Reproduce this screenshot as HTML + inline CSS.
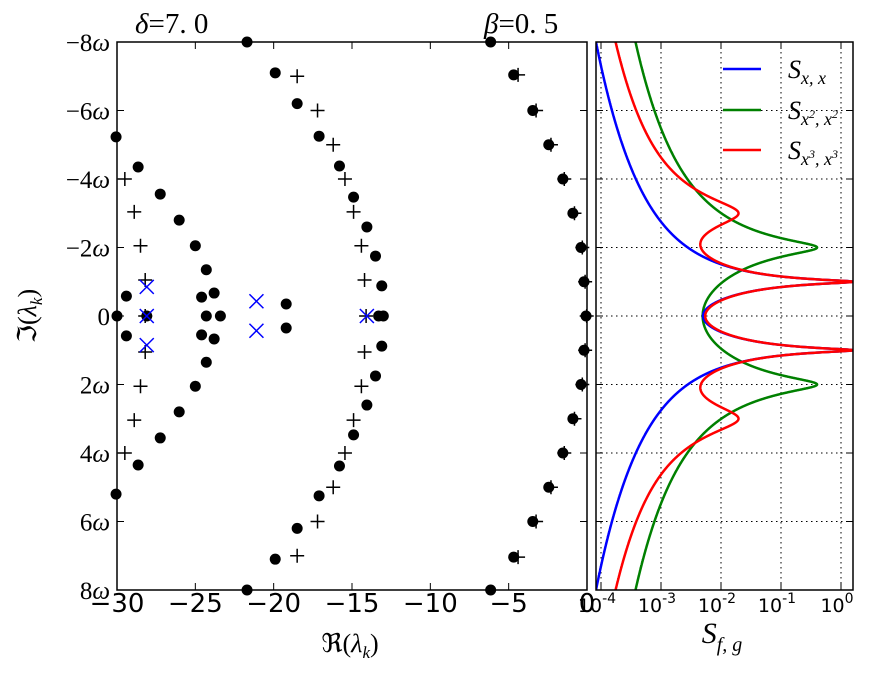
<!DOCTYPE html>
<html><head><meta charset="utf-8"><style>
html,body{margin:0;padding:0;background:#fff;}
svg{display:block;font-family:"Liberation Serif","DejaVu Serif",serif;}
</style></head><body>
<svg id="fig" width="872" height="676" viewBox="0 0 872 676" xmlns="http://www.w3.org/2000/svg">
<g id="left"></g>
<g id="right"></g>
</svg>
<script>
// ---- Left panel data (Re, Im in units of ω) ----
const dotRe = [-30.0,-29.4,-29.4,-28.1,-28.65,-28.65,-27.24,-27.24,-26.03,-26.03,-25.0,-25.0,-24.3,-24.3,-23.8,-23.8,-24.6,-24.6,-24.3,-23.4,-30.06,-30.06,-21.7,-21.7,
 -19.2,-19.2,-19.9,-19.9,-18.5,-18.5,-17.1,-17.1,-15.8,-15.8,-14.9,-14.9,-14.05,-14.05,-13.5,-13.5,-13.1,-13.1,-13.3,-13.0,
 -6.15,-6.15,-4.68,-4.68,-3.46,-3.46,-2.44,-2.44,-1.54,-1.54,-0.9,-0.9,-0.38,-0.38,-0.19,-0.19,-0.06];
const dotIm = [0,-0.58,0.58,0,-4.35,4.35,-3.56,3.56,-2.8,2.8,-2.05,2.05,-1.35,1.35,-0.67,0.67,-0.55,0.55,0,0,-5.23,5.2,-8,8,
 -0.35,0.35,-7.1,7.1,-6.2,6.2,-5.25,5.25,-4.38,4.38,-3.47,3.47,-2.6,2.6,-1.75,1.75,-0.88,0.88,0,0,
 -8,8,-7.04,7.04,-6,6,-5,5,-4,4,-3,3,-2,2,-1,1,0];
const plusRe = [-29.5,-29.5,-28.9,-28.9,-28.5,-28.5,-28.2,-28.2,-28.2,-18.5,-18.5,-17.2,-17.2,-16.2,-16.2,-15.45,-15.45,-14.9,-14.9,-14.4,-14.4,-14.2,-14.2,-14.1,
 -4.4,-4.4,-3.25,-3.25,-2.3,-2.3,-1.45,-1.45,-0.8,-0.8,-0.3,-0.3,-0.12,-0.12,-0.02];
const plusIm = [-4,4,-3.04,3.04,-2.05,2.05,-1.05,1.05,0,-7,7,-6,6,-5,5,-4,4,-3.04,3.04,-2.05,2.05,-1.05,1.05,0,
 -7.04,7.04,-6,6,-5,5,-4,4,-3,3,-2,2,-1,1,0];
const crossRe = [-28.1,-28.1,-28.1,-21.1,-21.1,-14.05];
const crossIm = [-0.85,0,0.85,-0.43,0.43,0];
const xTicks = [-30,-25,-20,-15,-10,-5,0];
const xTickLabels = ["\u221230","\u221225","\u221220","\u221215","\u221210","\u22125","0"];
const yTicks = [-8,-6,-4,-2,0,2,4,6,8];
const yTickNums = ["\u22128","\u22126","\u22124","\u22122","0","2","4","6","8"];
// ---- Right panel data: spectral peaks (center ω, amplitude, width) ----
const sxxCenters = [-1,1];   const sxxAmps = [0.063,0.063];   const sxxWidths = [0.04,0.04];
const sx2Centers = [-2,2];   const sx2Amps = [0.063,0.063];   const sx2Widths = [0.158,0.158];
const sx3Centers = [-1,1,-3,3]; const sx3Amps = [0.063,0.063,0.006,0.006]; const sx3Widths = [0.04,0.04,0.32,0.32];
const logTicks = [-4,-3,-2,-1,0];
const logTickLabels = ["-4","-3","-2","-1","0"];

const NS="http://www.w3.org/2000/svg";
function mk(tag,attrs,parent){const e=document.createElementNS(NS,tag);for(const k in attrs)e.setAttribute(k,attrs[k]);parent.appendChild(e);return e;}
const L={x0:117,x1:587,y0:42,y1:590};
const R={x0:596,x1:853};
const sx=v=>L.x0+(v+30)/30*(L.x1-L.x0);
const sy=w=>L.y0+(w+8)/16*(L.y1-L.y0);
const lx=lg=>601+(lg+4)*60;
const left=document.getElementById('left'), right=document.getElementById('right');

for(let i=0;i<dotRe.length;i++){
  const c=mk('circle',{cx:sx(dotRe[i]),cy:sy(dotIm[i]),r:5.5,fill:'#000'},left);
  
  
}
for(let i=0;i<plusRe.length;i++){
  const x=sx(plusRe[i]),y=sy(plusIm[i]);
  const p=mk('path',{d:`M${x-7},${y}H${x+7}M${x},${y-7}V${y+7}`,stroke:'#000','stroke-width':1.5},left);
  
  
}
for(let i=0;i<crossRe.length;i++){
  const x=sx(crossRe[i]),y=sy(crossIm[i]);
  const p=mk('path',{d:`M${x-7},${y-7}L${x+7},${y+7}M${x-7},${y+7}L${x+7},${y-7}`,stroke:'#0000ff','stroke-width':1.5},left);
  
  
}
const lf=mk('rect',{x:L.x0,y:L.y0,width:L.x1-L.x0,height:L.y1-L.y0,fill:'none',stroke:'#000','stroke-width':1.5},left);


xTicks.forEach((v,i)=>{
  const x=sx(v);
  mk('path',{d:`M${x},${L.y1}v-7M${x},${L.y0}v7`,stroke:'#000','stroke-width':1},left);
  const t=mk('text',{x:x,y:612,'text-anchor':'middle','font-size':26,'font-family':'"DejaVu Sans","Liberation Sans",sans-serif'},left);
  t.textContent=xTickLabels[i];
  
  
});
yTicks.forEach((w,i)=>{
  const y=sy(w);
  mk('path',{d:`M${L.x0},${y}h7M${L.x1},${y}h-7`,stroke:'#000','stroke-width':1},left);
  const t=mk('text',{x:110,y:y+9,'text-anchor':'end','font-size':25},left);
  t.textContent=yTickNums[i];
  if(w!==0){const s=mk('tspan',{'font-style':'italic'},t);s.textContent='\u03c9';}
  
  
});

const rg=mk('g',{},right);
logTicks.forEach(lg=>{const x=lx(lg);mk('line',{x1:x,y1:L.y0,x2:x,y2:L.y1,stroke:'#000','stroke-width':1,'stroke-dasharray':'1.5,3.5'},rg);});
[-6,-4,-2,0,2,4,6].forEach(w=>{const y=sy(w);mk('line',{x1:R.x0,y1:y,x2:R.x1,y2:y,stroke:'#000','stroke-width':1,'stroke-dasharray':'1.5,3.5'},rg);});
const cp=mk('clipPath',{id:'rc'},right);
mk('rect',{x:R.x0,y:L.y0,width:R.x1-R.x0,height:L.y1-L.y0},cp);
function spec(c,a,g,w){let s=0;for(let i=0;i<c.length;i++){s+=a[i]*g[i]/((w-c[i])**2+g[i]*g[i]);}return s;}
function curve(c,a,g,color,name){
  let d='';
  for(let w=-8.3;w<=8.3;w+=0.005){const v=spec(c,a,g,w);const x=lx(Math.log10(v));const y=sy(w);d+=(d?'L':'M')+x.toFixed(2)+','+y.toFixed(2);}
  const p=mk('path',{d:d,fill:'none',stroke:color,'stroke-width':2.5,'clip-path':'url(#rc)'},right);
  
  
}
curve(sx2Centers,sx2Amps,sx2Widths,'#008000','series-sx2x2');
curve(sxxCenters,sxxAmps,sxxWidths,'#0000ff','series-sxx');
curve(sx3Centers,sx3Amps,sx3Widths,'#ff0000','series-sx3x3');
const rf=mk('rect',{x:R.x0,y:L.y0,width:R.x1-R.x0,height:L.y1-L.y0,fill:'none',stroke:'#000','stroke-width':1.5},right);


yTicks.forEach(w=>{const y=sy(w);mk('path',{d:`M${R.x0},${y}h7M${R.x1},${y}h-7`,stroke:'#000','stroke-width':1},right);});
logTicks.forEach((lg,i)=>{
  const x=lx(lg);
  mk('path',{d:`M${x},${L.y1}v-7M${x},${L.y0}v7`,stroke:'#000','stroke-width':1},right);
  const t=mk('text',{x:x-4,y:612,'text-anchor':'middle','font-size':19,'font-family':'"DejaVu Sans","Liberation Sans",sans-serif'},right);
  t.textContent='10';
  const s=mk('tspan',{dy:-9,'font-size':14},t);s.textContent=logTickLabels[i];
  
  
});
</script>
<svg style="position:absolute;left:0;top:0" width="872" height="676">
<text x="135" y="33" font-size="29" font-family="Liberation Serif,serif"><tspan font-style="italic">δ</tspan>=7. 0</text>
<text x="484" y="33" font-size="29" font-family="Liberation Serif,serif"><tspan font-style="italic">β</tspan>=0. 5</text>
<text x="350" y="652" text-anchor="middle" font-size="26" font-family="Liberation Serif,serif">ℜ(<tspan font-style="italic">λ</tspan><tspan font-size="17" dy="6" font-style="italic">k</tspan><tspan dy="-6">)</tspan></text>
<text transform="translate(36,316) rotate(-90)" text-anchor="middle" font-size="26" font-family="Liberation Serif,serif">ℑ(<tspan font-style="italic">λ</tspan><tspan font-size="17" dy="6" font-style="italic">k</tspan><tspan dy="-6">)</tspan></text>
<text x="722" y="643" text-anchor="middle" font-size="30" font-style="italic" font-family="Liberation Serif,serif">S<tspan font-size="20" dy="8">f, g</tspan></text>
<g font-family="Liberation Serif,serif" font-style="italic">
<line x1="723" y1="69" x2="761" y2="69" stroke="#0000ff" stroke-width="2.5"/>
<text x="788" y="78" font-size="26">S<tspan font-size="18" dy="6">x, x</tspan></text>
<line x1="723" y1="110" x2="761" y2="110" stroke="#008000" stroke-width="2.5"/>
<text x="788" y="119" font-size="26">S<tspan font-size="18" dy="6">x</tspan><tspan font-size="12" dy="-7">2</tspan><tspan font-size="18" dy="7">, x</tspan><tspan font-size="12" dy="-7">2</tspan></text>
<line x1="723" y1="150" x2="761" y2="150" stroke="#ff0000" stroke-width="2.5"/>
<text x="788" y="159" font-size="26">S<tspan font-size="18" dy="6">x</tspan><tspan font-size="12" dy="-7">3</tspan><tspan font-size="18" dy="7">, x</tspan><tspan font-size="12" dy="-7">3</tspan></text>
</g>
</svg>
</body></html>
